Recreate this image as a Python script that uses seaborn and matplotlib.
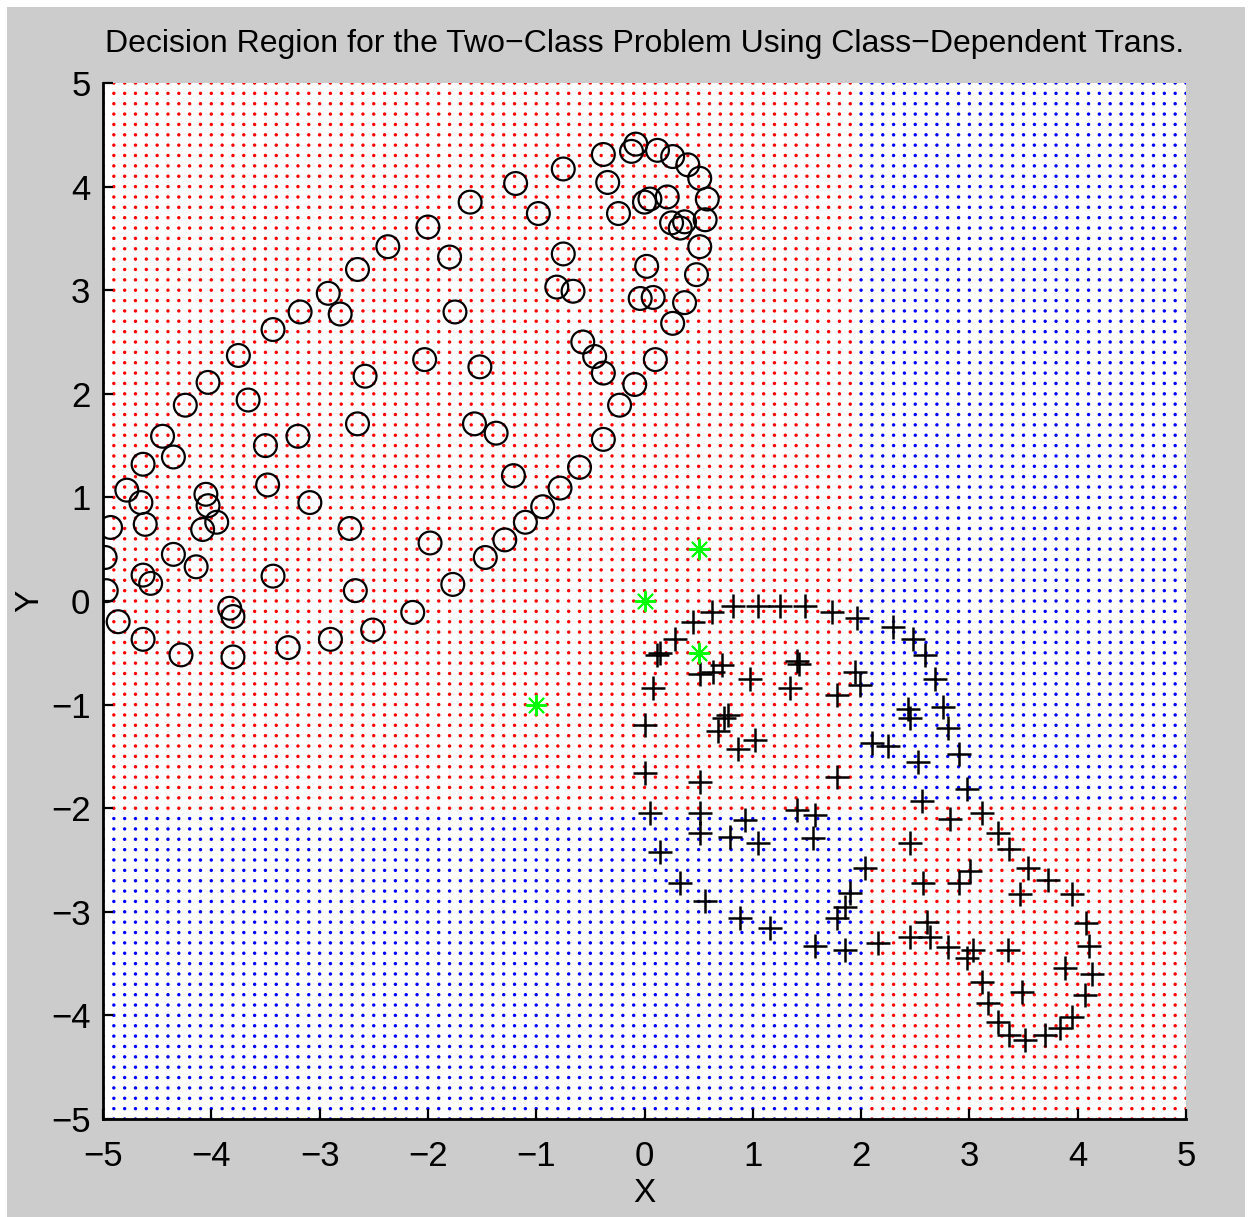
import numpy as np
import pandas as pd
import matplotlib
matplotlib.use("Agg")
import matplotlib.pyplot as plt
from matplotlib.patches import Rectangle
import seaborn as sns

plt.rcParams['font.family'] = ['Liberation Sans Narrow', 'Liberation Sans', 'DejaVu Sans']
plt.rcParams['axes.unicode_minus'] = True

# ---- class 1 samples (circles) ----
class1_x = [-2.37, -2.65, -2.92, -2.81, -3.18, -3.43, -3.75, -4.03, -2.58, -4.24,
            -3.66, -2.03, -2.00, -1.80, -1.61, -1.19, -0.75, -0.98, -0.38, -0.34,
            -0.24, -0.12, -0.08, 0.12, 0.26, 0.40, 0.51, 0.58, 0.21, 0.00,
            0.05, 0.56, 0.25, 0.33, 0.37, 0.51, 0.02, 0.48, -0.75, -0.81,
            -0.66, -1.75, -0.04, 0.08, 0.37, 0.26, -0.57, -0.46, -0.38, 0.10,
            -1.52, -0.09, -0.23, -2.65, -3.20, -3.50, -4.45, -4.35, -4.63, -3.48,
            -4.78, -4.65, -4.05, -4.03, -3.95, -4.08, -3.09, -4.61, -4.93, -2.72,
            -4.98, -4.35, -4.14, -3.43, -4.63, -4.56, -4.97, -2.67, -3.83, -3.80,
            -4.86, -2.14, -2.51, -4.63, -2.90, -3.29, -4.28, -3.80, -1.57, -1.37,
            -0.38, -0.60, -1.21, -0.78, -0.94, -1.10, -1.29, -1.47, -1.98, -1.77]
class1_y = [3.42, 3.20, 2.97, 2.77, 2.79, 2.62, 2.37, 2.11, 2.17, 1.89,
            1.94, 2.33, 3.61, 3.32, 3.85, 4.03, 4.17, 3.74, 4.31, 4.04,
            3.74, 4.34, 4.41, 4.35, 4.29, 4.21, 4.08, 3.88, 3.90, 3.85,
            3.88, 3.68, 3.65, 3.60, 3.66, 3.42, 3.23, 3.15, 3.35, 3.03,
            2.99, 2.79, 2.92, 2.93, 2.88, 2.68, 2.50, 2.36, 2.20, 2.33,
            2.26, 2.09, 1.89, 1.71, 1.59, 1.50, 1.59, 1.39, 1.32, 1.12,
            1.07, 0.95, 1.03, 0.92, 0.76, 0.69, 0.95, 0.74, 0.71, 0.70,
            0.42, 0.45, 0.33, 0.24, 0.25, 0.17, 0.10, 0.10, -0.07, -0.15,
            -0.20, -0.11, -0.28, -0.37, -0.37, -0.45, -0.52, -0.54, 1.71, 1.62,
            1.56, 1.29, 1.21, 1.09, 0.91, 0.76, 0.59, 0.42, 0.56, 0.16]

# ---- class 2 samples (plus signs) ----
class2_x = [0.82, 1.05, 1.25, 1.48, 1.73, 1.96, 0.62, 0.45, 0.28, 0.12,
            0.14, 0.72, 0.51, 0.63, 1.41, 1.43, 0.97, 1.94, 1.99, 1.34,
            0.08, 1.78, 0.77, 0.73, 0.68, 1.02, 0.86, 0.00, 2.10, 0.00,
            0.51, 1.78, 0.05, 0.51, 0.51, 1.41, 1.57, 0.93, 0.79, 1.05,
            1.56, 0.14, 2.04, 0.33, 0.56, 1.90, 1.85, 1.78, 0.88, 1.16,
            1.57, 1.85, 2.29, 2.48, 2.59, 2.68, 2.43, 2.45, 2.76, 2.80,
            2.25, 2.53, 2.90, 2.98, 2.56, 3.12, 2.82, 3.26, 3.37, 2.45,
            3.54, 3.01, 2.90, 2.57, 3.73, 3.47, 3.95, 4.08, 2.61, 2.64,
            2.45, 2.16, 2.80, 3.03, 2.98, 3.36, 4.10, 3.88, 4.13, 4.07,
            3.49, 3.12, 3.17, 3.26, 3.37, 3.51, 3.70, 3.84, 3.95]
class2_y = [-0.05, -0.05, -0.05, -0.05, -0.11, -0.16, -0.11, -0.20, -0.37, -0.52,
            -0.50, -0.62, -0.70, -0.69, -0.58, -0.61, -0.75, -0.69, -0.81, -0.84,
            -0.84, -0.91, -1.10, -1.13, -1.25, -1.34, -1.43, -1.20, -1.37, -1.66,
            -1.75, -1.70, -2.05, -2.05, -2.24, -2.02, -2.07, -2.11, -2.28, -2.34,
            -2.29, -2.42, -2.58, -2.72, -2.90, -2.82, -2.95, -3.06, -3.06, -3.16,
            -3.33, -3.37, -0.25, -0.37, -0.52, -0.75, -1.04, -1.13, -1.02, -1.23,
            -1.40, -1.55, -1.48, -1.81, -1.93, -2.05, -2.10, -2.24, -2.39, -2.34,
            -2.58, -2.61, -2.72, -2.72, -2.69, -2.83, -2.83, -3.11, -3.10, -3.24,
            -3.24, -3.30, -3.34, -3.37, -3.45, -3.37, -3.33, -3.54, -3.60, -3.80,
            -3.77, -3.68, -3.88, -4.06, -4.19, -4.24, -4.19, -4.12, -4.02]

# ---- test points (green asterisks) ----
test_x = [0.5, 0.0, 0.5, -1.0]
test_y = [0.5, 0.0, -0.5, -1.0]

# ---- decision grid ----
grid_axis = np.round(np.arange(-5.0, 5.0 + 1e-9, 0.1), 1)
split_x_upper = 1.95
split_x_lower = 2.05
split_y_left = -2.05
split_y_right = -1.95

gx, gy = np.meshgrid(grid_axis, grid_axis)
gx = gx.ravel()
gy = gy.ravel()
is_class1 = ((gx < split_x_upper) & (gy > split_y_left)) | \
            ((gx > split_x_lower) & (gy < split_y_right))
grid_df = pd.DataFrame({"x": gx, "y": gy,
                        "region": np.where(is_class1, "class 1", "class 2")})

W, H = 1250, 1217
fig = plt.figure(figsize=(W / 100, H / 100), dpi=100, facecolor="white")
fig.patches.append(Rectangle((7 / W, 0), (1245 - 7) / W, (H - 7) / H,
                             transform=fig.transFigure, facecolor="#cccccc",
                             edgecolor="none", zorder=-10))
ax = fig.add_axes([103 / W, (H - 1119) / H, 1083 / W, 1036 / H])
ax.set_facecolor("white")

sns.scatterplot(data=grid_df, x="x", y="y", hue="region",
                palette={"class 1": "#ff0000", "class 2": "#0000ff"},
                s=6, linewidth=0, marker="o", legend=False, ax=ax, zorder=1)

sns.scatterplot(x=class1_x, y=class1_y, marker="o", s=270,
                facecolor="none", edgecolor="black", linewidth=1.6,
                legend=False, ax=ax, zorder=3)
sns.scatterplot(x=class2_x, y=class2_y, marker="+", s=300, color="black",
                linewidth=1.8, legend=False, ax=ax, zorder=3)
sns.scatterplot(x=test_x, y=test_y, marker=(8, 2, 0), s=200, color="#00ff00",
                linewidth=1.4, legend=False, ax=ax, zorder=4)

ax.set_xlim(-5, 5)
ax.set_ylim(-5, 5)
ax.set_xticks(range(-5, 6))
ax.set_yticks(range(-5, 6))
for side in ("top", "right"):
    ax.spines[side].set_visible(False)
for side in ("left", "bottom"):
    ax.spines[side].set_linewidth(2.0)
    ax.spines[side].set_color("black")
    ax.spines[side].set_zorder(5)
ax.tick_params(direction="in", length=7, width=1.6, labelsize=25,
               colors="black")
ax.tick_params(axis="x", pad=15)
ax.tick_params(axis="y", pad=9)

ax.set_xlabel("X", fontsize=24, labelpad=4)
ax.set_ylabel("Y", fontsize=24, labelpad=4)
ax.set_title("Decision Region for the Two\u2212Class Problem Using Class\u2212Dependent Trans.",
             fontsize=23, pad=22)

fig.savefig("out.png", dpi=100, facecolor=fig.get_facecolor())
